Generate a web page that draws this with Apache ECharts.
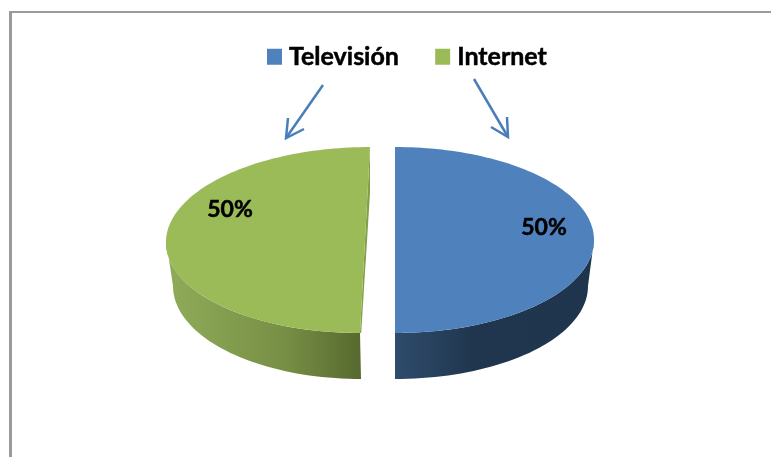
<!DOCTYPE html>
<html><head><meta charset="utf-8">
<style>html,body{margin:0;padding:0;background:#fff}#c{width:771px;height:457px}</style>
<script src="https://cdn.jsdelivr.net/npm/echarts@6/dist/echarts.min.js"></script>
</head><body><div id="c"></div>
<script>
const categories = ['Televisión', 'Internet'];
const values = [50, 50];
const colors = ['#4f81bd', '#9bbb59'];

const total = values.reduce((a, b) => a + b, 0);
const FONT = 'Lato, Carlito, "Open Sans", sans-serif';
// per-slice drawing geometry (exploded 3D look)
const geo = [
  {cx: 395, cy: 240, rx: 199, ry: 93, shear: 0, bx: 395, by: 286, brx: 193, bry: 93,
   label: [544, 228],
   side: [[0, '#2f4c6c'], [0.4, '#20364f'], [1, '#1f344d']], sx0: 395, sx1: 590},
  {cx: 365, cy: 240, rx: 199, ry: 93, shear: -0.0538, bx: 361, by: 286, brx: 188, bry: 93,
   label: [230, 210],
   side: [[0, '#8fab58'], [0.6, '#778f45'], [1, '#57692f']], sx0: 170, sx1: 361}
];

function arc(g, cx, cy, rx, ry, a0, a1, n) {
  const pts = [];
  for (let i = 0; i <= n; i++) {
    const a = a0 + (a1 - a0) * i / n;
    const y = cy - ry * Math.cos(a);
    pts.push([cx + rx * Math.sin(a) + g.shear * (y - cy), y]);
  }
  return pts;
}

function makeRender(idx) {
  return function (params, api) {
    const v = api.value(0);
    const before = values.slice(0, idx).reduce((a, b) => a + b, 0);
    const a0 = before / total * Math.PI * 2;
    const a1 = (before + v) / total * Math.PI * 2;
    const g = geo[idx];
    const top = arc(g, g.cx, g.cy, g.rx, g.ry, a0, a1, 120);
    const topPts = top.concat([[g.cx, g.cy]]);
    // visible rim: part of the edge on the front half of the ellipse
    const n = 90, frontTop = [], frontBot = [];
    for (let i = 0; i <= n; i++) {
      const a = a0 + (a1 - a0) * i / n;
      if (Math.cos(a) > 0.02) continue;
      const y = g.cy - g.ry * Math.cos(a);
      frontTop.push([g.cx + g.rx * Math.sin(a) + g.shear * (y - g.cy), y]);
      frontBot.push([g.bx + g.brx * Math.sin(a), g.by - g.bry * Math.cos(a)]);
    }
    const sidePts = frontTop.concat(frontBot.reverse());
    const children = [{
      type: 'polygon', shape: {points: sidePts},
      style: {fill: new echarts.graphic.LinearGradient(g.sx0, 0, g.sx1, 0,
        g.side.map(s => ({offset: s[0], color: s[1]})), true)}
    }];
    if (g.shear !== 0) {
      const t = top[top.length - 1], b = top[0];
      children.push({type: 'polygon',
        shape: {points: [[t[0], t[1]], [t[0], t[1] + 46], [b[0] + 1.2, b[1]], [b[0], b[1]]]},
        style: {fill: '#82a047'}});
    }
    children.push({type: 'polygon', shape: {points: topPts}, style: {fill: colors[idx]}});
    children.push({type: 'text', x: g.label[0], y: g.label[1],
      style: {text: v + '%', fill: '#000', font: 'bold 23px ' + FONT, align: 'center', verticalAlign: 'middle',
        stroke: '#000', lineWidth: 0.5}});
    return {type: 'group', children};
  };
}

const chart = echarts.init(document.getElementById('c'), null, {renderer: 'canvas'});
chart.setOption({
  animation: false,
  backgroundColor: '#fff',
  color: colors,
  legend: {
    data: categories, left: 262, top: 39, itemWidth: 15, itemHeight: 16, itemGap: 36,
    icon: 'rect', selectedMode: false,
    textStyle: {color: '#000', fontFamily: FONT, fontWeight: 'bold', fontSize: 25, padding: [0, 0, 0, 2],
      textBorderColor: '#000', textBorderWidth: 0.5}
  },
  series: categories.map((name, i) => ({
    type: 'custom', name, coordinateSystem: 'none', silent: true,
    itemStyle: {color: colors[i]},
    data: [[values[i]]], renderItem: makeRender(i)
  })),
  graphic: [
    {type: 'rect', shape: {x: 9, y: 11, width: 3, height: 446}, style: {fill: '#9a9a9a'}},
    {type: 'rect', shape: {x: 9, y: 11, width: 762, height: 2}, style: {fill: '#9a9a9a'}},
    {type: 'polyline', shape: {points: [[323, 85], [286, 138]]}, style: {stroke: '#4a7ebb', lineWidth: 2.5, fill: null}},
    {type: 'polyline', shape: {points: [[288, 118], [286, 138], [304, 129]]}, style: {stroke: '#4a7ebb', lineWidth: 2.5, fill: null}},
    {type: 'polyline', shape: {points: [[474, 79], [508, 137]]}, style: {stroke: '#4a7ebb', lineWidth: 2.5, fill: null}},
    {type: 'polyline', shape: {points: [[507, 117], [508, 137], [491, 127]]}, style: {stroke: '#4a7ebb', lineWidth: 2.5, fill: null}}
  ]
});
</script></body></html>
